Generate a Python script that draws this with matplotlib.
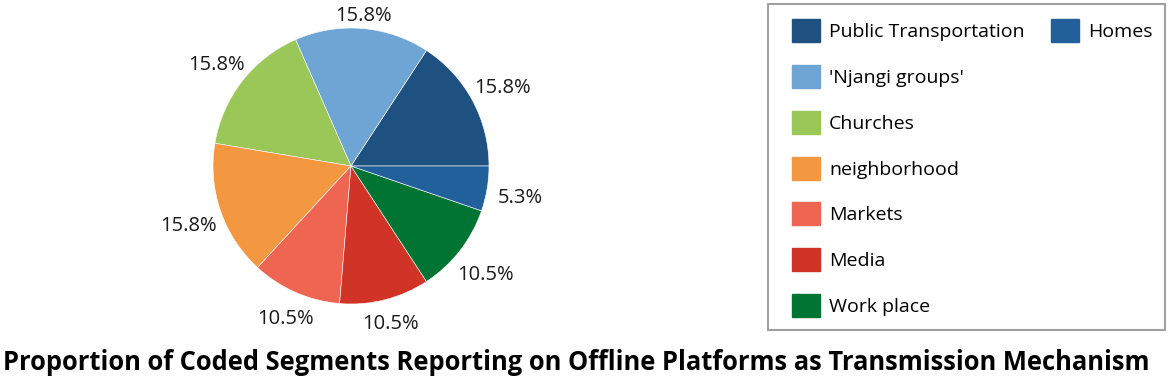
import numpy as np
import matplotlib.pyplot as plt
from matplotlib.patches import Rectangle

plt.rcParams['font.family'] = ['Open Sans', 'DejaVu Sans']

# data (counts of coded segments, 19 total)
categories = ['Public Transportation', "'Njangi groups'", 'Churches', 'neighborhood',
              'Markets', 'Media', 'Work place', 'Homes']
counts = [3, 3, 3, 3, 2, 2, 2, 1]
colors = ['#1e5080', '#6fa5d5', '#9bc759', '#f39741',
          '#ee6552', '#d03426', '#007533', '#22609b']
legend_order = ['Public Transportation', "'Njangi groups'", 'Churches', 'neighborhood',
                'Markets', 'Media', 'Work place', 'Homes']
title = 'Proportion of Coded Segments Reporting on Offline Platforms as Transmission Mechanism'

W, H = 1170, 384
fig = plt.figure(figsize=(W / 100, H / 100), dpi=100)

# pie axes, center ~ (351, 166) px, radius ~138 px
R = 138
ax = fig.add_axes([(351 - R) / W, 1 - (166 + R) / H, 2 * R / W, 2 * R / H])
wedges, texts, autotexts = ax.pie(counts, colors=colors, startangle=0, counterclock=True,
                                  autopct='%1.1f%%',
                                  wedgeprops=dict(linewidth=0.4, edgecolor='white'),
                                  textprops=dict(fontsize=14.5, color='#1a1a1a'))
ax.set_xlim(-1, 1)
ax.set_ylim(-1, 1)
ax.set_aspect('equal')

# put each percentage just outside the rim, keeping a constant gap to its text box
gap, half_w, half_h = 6, 27, 8.5
for w, t in zip(wedges, autotexts):
    theta = np.deg2rad((w.theta1 + w.theta2) / 2)
    c, s = np.cos(theta), np.sin(theta)
    d = 1 + (gap + abs(c) * half_w + abs(s) * half_h) / R
    t.set_position((d * c, d * s - 4 / R))
    t.set_ha('center')
    t.set_va('center')

# legend: first column holds 7 entries, second column only "Homes"
color_of = dict(zip(categories, colors))
handles = [Rectangle((0, 0), 1, 1, facecolor=color_of[c], edgecolor=color_of[c]) for c in legend_order]
labels = list(legend_order)
blank = Rectangle((0, 0), 1, 1, visible=False)
handles = handles + [blank] * 6
labels = labels + [''] * 6

leg = fig.legend(handles, labels, ncol=2, loc='upper left',
                 bbox_to_anchor=(792 / W, 1 - 19 / H),
                 fontsize=14, frameon=False,
                 handlelength=1.45, handleheight=1.45, handletextpad=0.46,
                 labelspacing=1.17, columnspacing=1.35, borderpad=0,
                 borderaxespad=0)

# legend border box
fig.add_artist(Rectangle((768 / W, 1 - 330 / H), (1165 - 768) / W, (330 - 4) / H,
                         transform=fig.transFigure, fill=False,
                         edgecolor='#a0a0a0', linewidth=1.5))

fig.text(3 / W, 1 - 363 / H, title, fontsize=18.4, fontweight='bold',
         va='center', ha='left', color='black')

fig.savefig('out.png', dpi=100)
